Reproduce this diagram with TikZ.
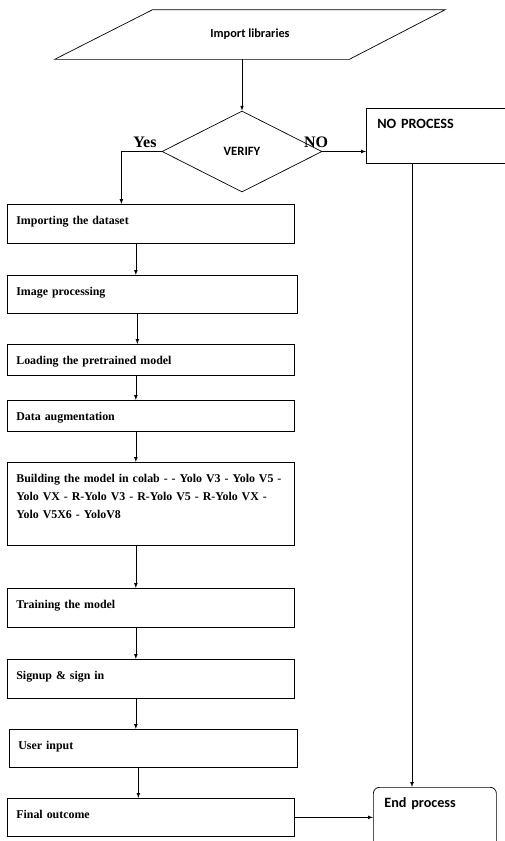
\documentclass[tikz,border=0pt]{standalone}
\usepackage{fontspec}
\setmainfont{Liberation Serif}
\newfontfamily\calfont{Carlito}
\usetikzlibrary{shapes.geometric,arrows}

\begin{document}
\begin{tikzpicture}[x=1pt, y=-1pt, >=latex, line width=0.7pt,
          stepbox/.style={rectangle, draw, anchor=north west, align=left,
            text width=269pt, inner xsep=9pt, inner ysep=6pt, text height=14pt,
            font=\bfseries\fontsize{11.9}{18}\selectfont},
          sidebox/.style={rectangle, draw, anchor=north west, align=left,
            text width=101pt, inner xsep=11pt, inner ysep=6pt, text height=14pt,
            font=\calfont\bfseries\fontsize{14.2}{16}\selectfont},
          answer/.style={anchor=base, font=\bfseries\fontsize{16}{16}\selectfont}]

          \useasboundingbox (0,0) rectangle (504,841);

          \node[minimum width=390pt, minimum height=49pt, inner sep=0pt,
            font=\calfont\bfseries\fontsize{12.3}{14}\selectfont] (imp) at (250,34.5) {Import libraries};
          \draw ([xshift=98pt]imp.north west) -- (imp.north east)
            -- ([xshift=-96pt]imp.south east) -- (imp.south west) -- cycle;
          \node[draw, diamond, aspect=2, minimum width=160pt, minimum height=81pt, inner sep=0pt,
            font=\calfont\bfseries\fontsize{12.7}{14}\selectfont] (verify) at (242,151.5) {VERIFY};
          \node[answer] (yes) at (145,147) {Yes};
          \node[answer] (no) at (316,147) {NO};
          \node[sidebox, text width=138pt, text depth=29pt] (noproc) at (366,108) {NO PROCESS};
          \node[sidebox, rounded corners=6pt, text depth=57pt] (endp) at (373,787) {End process};

          \node[stepbox, text depth=13pt] (ds) at (7,204) {Importing the dataset};
          \node[stepbox, text width=272pt, text depth=12pt] (ip) at (7,275) {Image processing};
          \node[stepbox, text depth=5pt] (lp) at (7,344) {Loading the pretrained model};
          \node[stepbox, text depth=5pt] (da) at (7,400) {Data augmentation};
          \node[stepbox, text depth=57pt] (bm) at (7,462) {Building the model in colab - - Yolo V3 - Yolo V5 -\\
            Yolo VX - R-Yolo V3 - R-Yolo V5 - R-Yolo VX -\\ Yolo V5X6 - YoloV8};
          \node[stepbox, text depth=13pt] (tm) at (7,588) {Training the model};
          \node[stepbox, text depth=13pt] (su) at (7,659) {Signup \& sign in};
          \node[stepbox, text width=270pt, text depth=12pt] (ui) at (9,729) {User input};
          \node[stepbox, text depth=12pt] (fo) at (7,798) {Final outcome};

          \coordinate (drop) at (412,0);
          \draw[->] (imp.south -| verify.north) -- (verify.north);
          \draw[->] (verify.west) -| ([xshift=-29.5pt]ds.north);
          \draw[->] (verify.east) -- (verify.east -| noproc.west);
          \draw[->] (noproc.south -| drop) -- (endp.north -| drop);
          \foreach \a/\b in {ds/ip, ip/lp, lp/da, da/bm, bm/tm, tm/su, su/ui, ui/fo}
            \draw[->] ([xshift=-15pt]\a.south) -- ([xshift=-15pt]\a.south |- \b.north);
          \draw[->] (fo.east) -- (fo.east -| endp.west);
        \end{tikzpicture}
\end{document}
